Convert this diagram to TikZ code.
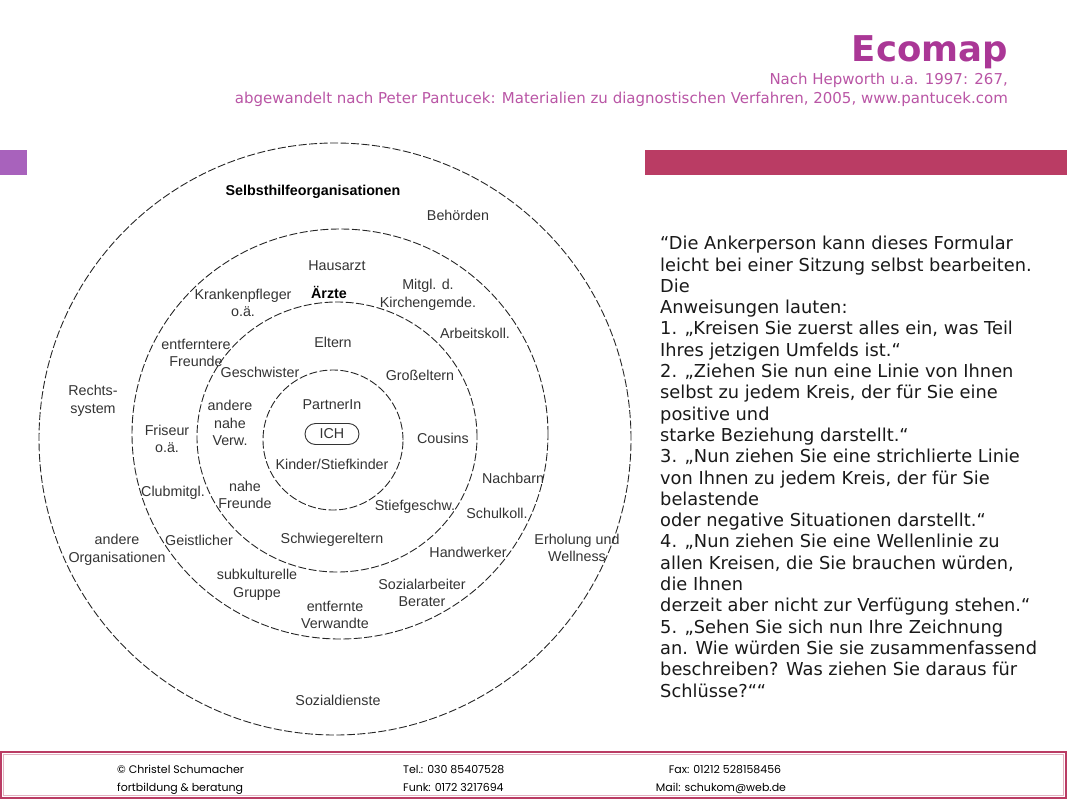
\documentclass[tikz,border=0pt]{standalone}
\usepackage{fontspec}
\setmainfont{Liberation Sans}
\newfontfamily\versefont{DejaVu Sans}
\newfontfamily\footfont{Poppins}
\definecolor{EcoMagenta}{RGB}{170,55,150}
\definecolor{EcoLilac}{RGB}{185,85,165}
\definecolor{EcoPurple}{RGB}{168,98,188}
\definecolor{EcoRed}{RGB}{186,60,100}
\usetikzlibrary{positioning,shapes}
\tikzset{myrings/.style={draw=black!85,line width=0.9pt,dash pattern=on 8pt off 2.5pt}}
\tikzset{mylabels/.style={black!80,align=center,inner sep=1pt,font=\fontsize{14.3}{17.5}\selectfont}}
\tikzset{myhead/.style={anchor=base east,inner sep=0pt,EcoLilac,font=\versefont\fontsize{15}{17}\selectfont}}
\tikzset{myfoot/.style={anchor=base west,inner sep=0pt,black,font=\footfont\fontsize{11}{12}\selectfont}}

\begin{document}
\begin{tikzpicture}[x=1pt,y=-1pt]
\useasboundingbox (0,0) rectangle (1067,800);

\node[anchor=base east,inner sep=0pt,EcoMagenta,font=\versefont\bfseries\fontsize{35.5}{40}\selectfont] (title) at (1008,62) {Ecomap};
\node[myhead] (source) at (1008,84) {Nach Hepworth u.a. 1997: 267,};
\node[myhead] (variant) at (1008,103) {abgewandelt nach Peter Pantucek: Materialien zu diagnostischen Verfahren, 2005, www.pantucek.com};

\fill[EcoPurple] (0,150) rectangle (27,175);
\fill[EcoRed] (645,150) rectangle (1067,175);

\draw[myrings] (335,439) circle [radius=296pt];
\draw[myrings] (340,434) ellipse [x radius=208pt, y radius=205pt];
\draw[myrings] (337,437) ellipse [x radius=140pt, y radius=135pt];
\draw[myrings] (333,440) circle [radius=70pt];

\node[draw=black!85,line width=0.9pt,rounded rectangle,minimum width=56pt,minimum height=21pt,inner sep=0pt,mylabels] (ich) at (332,434) {ICH};
\node[mylabels,above=12pt of ich] (partner) {PartnerIn};
\node[mylabels,below=13pt of ich] (kinder) {Kinder/Stiefkinder};

\node[mylabels,black,font=\bfseries\fontsize{14.3}{17.5}\selectfont] (selbsthilfe) at (313,192) {Selbsthilfeorganisationen};
\node[mylabels] (behoerden) at (458,215) {Behörden};
\node[mylabels] (rechts) at (93,401) {Rechts-\\system};
\node[mylabels] (andereorg) at (117,550) {andere\\Organisationen};
\node[mylabels] (erholung) at (577,548) {Erholung und\\Wellness};
\node[mylabels] (sozialdienste) at (338,700) {Sozialdienste};

\node[mylabels] (hausarzt) at (337,266) {Hausarzt};
\node[mylabels,black,font=\bfseries\fontsize{14.3}{17.5}\selectfont] (aerzte) at (329,292) {Ärzte};
\node[mylabels] (pfleger) at (243,303) {Krankenpfleger\\o.ä.};
\node[mylabels] (kirche) at (428,295) {Mitgl. d.\\Kirchengemde.};
\node[mylabels] (arbeit) at (475,333) {Arbeitskoll.};
\node[mylabels] (fernfreunde) at (196,353) {entferntere\\Freunde};
\node[mylabels] (friseur) at (167,439) {Friseur\\o.ä.};
\node[mylabels] (club) at (173,493) {Clubmitgl.};
\node[mylabels] (nachbarn) at (513,478) {Nachbarn};
\node[mylabels] (schule) at (497,513) {Schulkoll.};
\node[mylabels] (geistlicher) at (199,540) {Geistlicher};
\node[mylabels] (handwerker) at (468,552) {Handwerker};
\node[mylabels] (subkultur) at (257,585) {subkulturelle\\Gruppe};
\node[mylabels] (sozialarbeit) at (422,593) {Sozialarbeiter\\Berater};
\node[mylabels] (fernverwandt) at (335,615) {entfernte\\Verwandte};

\node[mylabels] (eltern) at (333,342) {Eltern};
\node[mylabels] (geschwister) at (260,372) {Geschwister};
\node[mylabels] (grosseltern) at (420,375) {Großeltern};
\node[mylabels] (verwandte) at (230,423) {andere\\nahe\\Verw.};
\node[mylabels] (cousins) at (443,438) {Cousins};
\node[mylabels] (nahefreunde) at (245,495) {nahe\\Freunde};
\node[mylabels] (stiefgeschw) at (415,507) {Stiefgeschw.};
\node[mylabels] (schwieger) at (332,540) {Schwiegereltern};

\node[anchor=north west,inner sep=0pt,align=left,black!90,font=\versefont\fontsize{17.8}{21.3}\selectfont] (anleitung) at (660,236) {“Die Ankerperson kann dieses Formular\\
leicht bei einer Sitzung selbst bearbeiten.\\
Die\\
Anweisungen lauten:\\
1. „Kreisen Sie zuerst alles ein, was Teil\\
Ihres jetzigen Umfelds ist.“\\
2. „Ziehen Sie nun eine Linie von Ihnen\\
selbst zu jedem Kreis, der für Sie eine\\
positive und\\
starke Beziehung darstellt.“\\
3. „Nun ziehen Sie eine strichlierte Linie\\
von Ihnen zu jedem Kreis, der für Sie\\
belastende\\
oder negative Situationen darstellt.“\\
4. „Nun ziehen Sie eine Wellenlinie zu\\
allen Kreisen, die Sie brauchen würden,\\
die Ihnen\\
derzeit aber nicht zur Verfügung stehen.“\\
5. „Sehen Sie sich nun Ihre Zeichnung\\
an. Wie würden Sie sie zusammenfassend\\
beschreiben? Was ziehen Sie daraus für\\
Schlüsse?““};

\draw[EcoRed,line width=1.6pt] (1,752) rectangle (1066,798);
\draw[EcoRed!40,line width=0.8pt] (3.5,754.5) rectangle (1063.5,795.5);
\node[myfoot] (autorin) at (117,773) {© Christel Schumacher};
\node[myfoot] (firma) at (117,791) {fortbildung \& beratung};
\node[myfoot] (tel) at (403,773) {Tel.: 030 85407528};
\node[myfoot] (funk) at (403,791) {Funk: 0172 3217694};
\node[myfoot,anchor=base] (fax) at (725,773) {Fax: 01212 528158456};
\node[myfoot,anchor=base] (mail) at (721,791) {Mail: schukom@web.de};
\end{tikzpicture}
\end{document}
